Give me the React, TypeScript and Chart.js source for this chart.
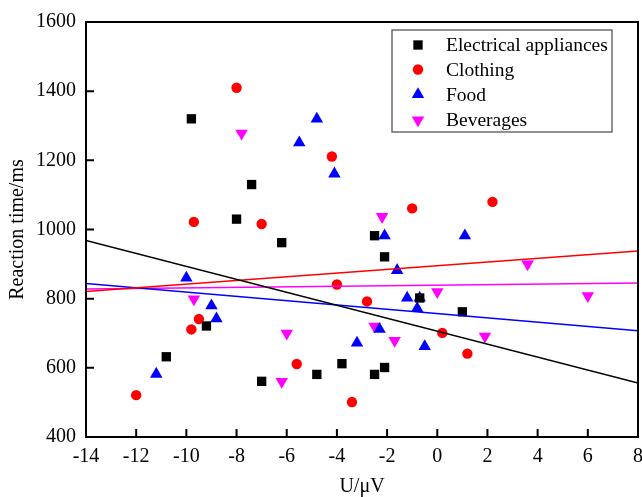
import React, { useEffect, useRef } from 'react';
import { Chart, registerables } from 'chart.js';

Chart.register(...registerables);

// ---- data ----
const seriesNames = ['Electrical appliances', 'Clothing', 'Food', 'Beverages'];
const seriesColors = ['#000000', '#ff0000', '#0000ff', '#ff00ff'];

const elecX = [-9.8, -7.4, -8.0, -6.2, -2.5, -2.1, -0.7, 1.0, -9.2, -10.8, -7.0, -4.8, -3.8, -2.5, -2.1];
const elecY = [1320, 1130, 1030, 962, 982, 921, 802, 762, 721, 632, 561, 581, 612, 581, 601];

const clothX = [-8.0, -9.7, -7.0, -4.2, -1.0, 2.2, -9.5, -9.8, -12.0, -4.0, -2.8, -5.6, -3.4, 0.2, 1.2];
const clothY = [1410, 1022, 1016, 1211, 1061, 1080, 741, 711, 521, 841, 792, 611, 501, 701, 641];

const foodX = [-4.8, -5.5, -4.1, -2.1, 1.1, -1.6, -1.2, -0.7, -0.8, -2.3, -3.2, -0.5, -10.0, -9.0, -8.8, -11.2];
const foodY = [1320, 1251, 1161, 982, 982, 882, 802, 802, 772, 712, 672, 662, 860, 780, 742, 582];

const bevX = [-7.8, -2.2, -9.7, -6.0, -6.2, -2.5, -1.7, 0.0, 3.6, 6.0, 1.9];
const bevY = [1278, 1037, 799, 700, 560, 720, 679, 820, 900, 808, 691];

// linear fit lines (values at the ends of the x range)
const fitX = [-14, 8];
const elecFit = [968, 556];
const clothFit = [821, 938];
const foodFit = [844, 707];
const bevFit = [828, 845];

const xRange = [-14, 8];
const yRange = [400, 1600];
const xStep = 2;
const yStep = 200;

const FONT = "'Liberation Serif', 'Times New Roman', serif";

const toPts = (xs: number[], ys: number[]) => xs.map((x, i) => ({ x, y: ys[i] }));

function drawMarker(ctx: CanvasRenderingContext2D, style: string, x: number, y: number, r: number, rot: number) {
  ctx.beginPath();
  if (style === 'rect') {
    const s = Math.SQRT1_2 * r;
    ctx.rect(x - s, y - s, 2 * s, 2 * s);
  } else if (style === 'circle') {
    ctx.arc(x, y, r, 0, Math.PI * 2);
  } else {
    const dir = rot === 180 ? -1 : 1;
    ctx.moveTo(x, y - dir * r);
    ctx.lineTo(x + 0.866 * r, y + dir * r / 2);
    ctx.lineTo(x - 0.866 * r, y + dir * r / 2);
    ctx.closePath();
  }
  ctx.fill();
}

const framePlugin = {
  id: 'frameTicks',
  afterDraw(chart: any) {
    const { ctx, chartArea: a, scales } = chart;
    ctx.save();
    ctx.strokeStyle = '#000';
    ctx.lineWidth = 2;
    ctx.beginPath();
    ctx.rect(a.left, a.top, a.right - a.left, a.bottom - a.top);
    ctx.stroke();
    const tl = 8;
    ctx.beginPath();
    scales.x.ticks.forEach((t: any) => {
      const px = scales.x.getPixelForValue(t.value);
      ctx.moveTo(px, a.bottom);
      ctx.lineTo(px, a.bottom - tl);
    });
    scales.y.ticks.forEach((t: any) => {
      const py = scales.y.getPixelForValue(t.value);
      ctx.moveTo(a.left, py);
      ctx.lineTo(a.left + tl, py);
    });
    ctx.stroke();

    // legend box
    const bx = 392, by = 30, bw = 220, bh = 102;
    ctx.fillStyle = '#ffffff';
    ctx.fillRect(bx, by, bw, bh);
    ctx.strokeStyle = '#555555';
    ctx.lineWidth = 1.3;
    ctx.strokeRect(bx, by, bw, bh);
    const rows = [45, 69.5, 94.5, 120];
    const scatter = chart.data.datasets.filter((d: any) => d.type === 'scatter');
    scatter.forEach((d: any, i: number) => {
      ctx.fillStyle = d.backgroundColor;
      drawMarker(ctx, d.pointStyle, 418, rows[i], d.pointRadius, d.pointRotation || 0);
      ctx.fillStyle = '#000';
      ctx.font = `19.5px ${FONT}`;
      ctx.textAlign = 'left';
      ctx.textBaseline = 'middle';
      ctx.fillText(d.label, 446, rows[i] + 1);
    });
    ctx.restore();
  },
};

export default function App() {
  const ref = useRef<HTMLCanvasElement | null>(null);
  useEffect(() => {
    document.body.style.margin = '0';
    const canvas = ref.current!;
    const scatterDefs = [
      { xs: elecX, ys: elecY, style: 'rect', r: 6.6, rot: 0 },
      { xs: clothX, ys: clothY, style: 'circle', r: 5.2, rot: 0 },
      { xs: foodX, ys: foodY, style: 'triangle', r: 7.2, rot: 0 },
      { xs: bevX, ys: bevY, style: 'triangle', r: 7.2, rot: 180 },
    ];
    const fits = [elecFit, clothFit, foodFit, bevFit];
    const datasets: any[] = [];
    scatterDefs.forEach((s, i) => {
      datasets.push({
        type: 'scatter',
        label: seriesNames[i],
        data: toPts(s.xs, s.ys),
        pointStyle: s.style,
        pointRadius: s.r,
        pointRotation: s.rot,
        backgroundColor: seriesColors[i],
        borderColor: seriesColors[i],
        pointBorderWidth: 0,
        borderWidth: 0,
        order: 2,
      });
    });
    fits.forEach((f, i) => {
      datasets.push({
        type: 'line',
        label: seriesNames[i] + ' fit',
        data: toPts(fitX, f),
        borderColor: seriesColors[i],
        borderWidth: 1.5,
        pointRadius: 0,
        fill: false,
        order: 1,
      });
    });
    const chart = new Chart(canvas, {
      type: 'scatter',
      data: { datasets },
      options: {
        animation: false,
        responsive: false,
        devicePixelRatio: 1,
        layout: { autoPadding: false, padding: { top: 22, right: 4, left: 0, bottom: 0 } },
        plugins: { legend: { display: false }, tooltip: { enabled: false } },
        scales: {
          x: {
            type: 'linear',
            min: xRange[0],
            max: xRange[1],
            grid: { display: false, drawTicks: false },
            border: { display: false },
            ticks: { stepSize: xStep, color: '#000', padding: 8, font: { family: FONT, size: 20 }, maxRotation: 0, callback: (v: any) => String(v) },
            title: { display: true, text: 'U/\u03bcV', color: '#000', font: { family: FONT, size: 20, lineHeight: 1 }, padding: { top: 0, bottom: 0 } },
            afterFit: (s: any) => { s.height = 60; s.paddingLeft = 0; s.paddingRight = 0; },
          },
          y: {
            type: 'linear',
            min: yRange[0],
            max: yRange[1],
            grid: { display: false, drawTicks: false },
            border: { display: false },
            ticks: { stepSize: yStep, color: '#000', padding: 10, font: { family: FONT, size: 20 }, callback: (v: any) => String(v) },
            title: { display: true, text: 'Reaction time/ms', color: '#000', font: { family: FONT, size: 20, lineHeight: 1 }, padding: { top: 8, bottom: 0 } },
            afterFit: (s: any) => { s.width = 86; s.paddingTop = 0; s.paddingBottom = 0; },
          },
        },
      } as any,
      plugins: [framePlugin],
    });
    return () => chart.destroy();
  }, []);
  return (
    <div style={{ width: 642, height: 497 }}>
      <canvas ref={ref} width={642} height={497} style={{ display: 'block' }} />
    </div>
  );
}
